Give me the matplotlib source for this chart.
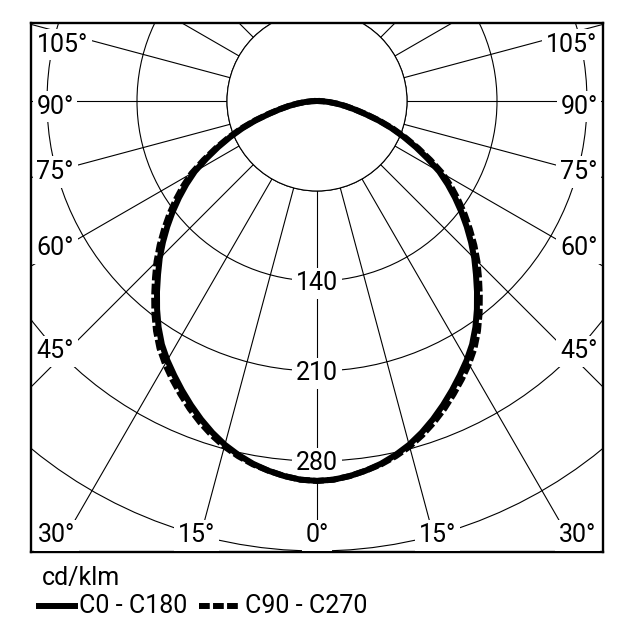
import numpy as np
import matplotlib.pyplot as plt
from matplotlib.patches import Circle
from matplotlib.lines import Line2D

plt.rcParams['font.family'] = ['Roboto', 'DejaVu Sans']

# luminous intensity, cd/klm, every 2.5 deg from nadir
gamma = [0, 2.5, 5, 7.5, 10, 12.5, 15, 17.5, 20, 22.5, 25, 27.5, 30, 32.5, 35,
         37.5, 40, 42.5, 45, 47.5, 50, 52.5, 55, 57.5, 60, 62.5, 65, 67.5, 70,
         72.5, 75, 77.5, 80, 82.5, 85, 87.5, 90]
c0_c180 = [295.5, 294.8, 292.8, 290, 286.5, 282, 276.8, 270.5, 263.5, 256,
           248.3, 240.5, 232.8, 224.5, 214.8, 204.3, 193.6, 183, 173, 162.5,
           152, 141.5, 131, 120.5, 109.8, 97, 84.8, 73, 61.5, 50, 38.5, 29.5,
           22, 15.5, 9.5, 4.5, 0]
c90_c270 = [295.5, 294.8, 292.8, 290, 287, 283, 278.3, 272.5, 266, 259,
            251.5, 244, 236.3, 228, 218.3, 207.8, 197, 186.5, 176.5, 166,
            155.3, 144.8, 134.2, 123.6, 112.8, 99.5, 86.8, 74.5, 63, 51, 39.5, 30,
            22.5, 15.5, 9.5, 4.5, 0]

rings = [70, 140, 210, 280, 350]
ring_labels = [140, 210, 280]
angle_labels = [0, 15, 30, 45, 60, 75, 90, 105]
unit = 'cd/klm'
series_names = ['C0 - C180', 'C90 - C270']

W = H = 631
fs = 18
px = 90 / 70.0          # pixels per cd/klm
cx, cy = 317, 101       # pole position in pixels
left, right, top, bottom = 31, 603, 23, 552

fig = plt.figure(figsize=(W / 100, H / 100), dpi=100)
ax = fig.add_axes([left / W, 1 - bottom / H, (right - left) / W, (bottom - top) / H])
X0, X1 = (left - cx) / px, (right - cx) / px
Yb, Yt = -(bottom - cy) / px, -(top - cy) / px
ax.set_xlim(X0, X1)
ax.set_ylim(Yb, Yt)
ax.set_xticks([])
ax.set_yticks([])
for sp in ax.spines.values():
    sp.set_linewidth(1.7)

# grid: rings and radial lines
for r in rings:
    ax.add_patch(Circle((0, 0), r, fill=False, ec='black', lw=0.8, zorder=1))
for a in range(0, 360, 15):
    t = np.radians(a)
    ax.plot([70 * np.sin(t), 700 * np.sin(t)], [-70 * np.cos(t), -700 * np.cos(t)],
            color='black', lw=0.8, zorder=1)
ax.add_patch(Circle((0, 0), 70, fc='white', ec='black', lw=0.8, zorder=2))

box = dict(boxstyle='square,pad=0.15', fc='white', ec='none')
for r in ring_labels:
    ax.text(0, -r, str(r), ha='center', va='center_baseline', fontsize=fs,
            bbox=box, zorder=3)

# angle labels near the frame, on their radial line
iy = 19 / px
for a in angle_labels:
    s = '%d°' % a
    hw = (len(s) - 1) * 0.562 * 25.3 / 2 + 0.38 * 25.3 / 2
    ix = (hw + 5) / px
    for side in ([1] if a == 0 else [-1, 1]):
        t = np.radians(a)
        dx, dy = side * np.sin(t), -np.cos(t)
        tx = (X1 if dx > 0 else -X0) / abs(dx) if abs(dx) > 1e-9 else np.inf
        ty = (Yt if dy > 0 else Yb) / dy if abs(dy) > 1e-9 else np.inf
        if tx < ty:
            x = side * (X1 - ix)
            y = dy * x / dx
            if a <= 90:
                y += (17 * abs(dy) / abs(dx) - 3) / px
        else:
            x, y = dx * ty, dy * ty
        x = min(max(x, X0 + ix), X1 - ix)
        y = min(max(y, Yb + iy), Yt - iy)
        ax.text(x, y, s, ha='center', va='center_baseline', fontsize=fs,
                bbox=box, zorder=3)

# curves, mirrored both sides of nadir
def curve(vals):
    g = np.radians(np.array(gamma, float))
    v = np.array(vals, float)
    g = np.concatenate([-g[::-1], g[1:]])
    v = np.concatenate([v[::-1], v[1:]])
    return v * np.sin(g), -v * np.cos(g)

lw = 4.3
dash = (0, (1.8, 0.55))
x, y = curve(c90_c270)
ax.plot(x, y, color='black', lw=lw, ls=dash, zorder=4, solid_joinstyle='round')
x, y = curve(c0_c180)
ax.plot(x, y, color='black', lw=lw, zorder=5, solid_joinstyle='round')

# legend below the frame
fig.text(42 / W, 1 - 585 / H, unit, fontsize=fs, va='baseline')
fig.add_artist(Line2D([39 / W, 75 / W], [1 - 606 / H] * 2, color='black', lw=lw))
fig.text(79 / W, 1 - 613 / H, series_names[0], fontsize=fs, va='baseline')
fig.add_artist(Line2D([199 / W, 240 / W], [1 - 606 / H] * 2, color='black', lw=lw, ls=dash))
fig.text(245 / W, 1 - 613 / H, series_names[1], fontsize=fs, va='baseline')

fig.savefig('out.png', dpi=100)
